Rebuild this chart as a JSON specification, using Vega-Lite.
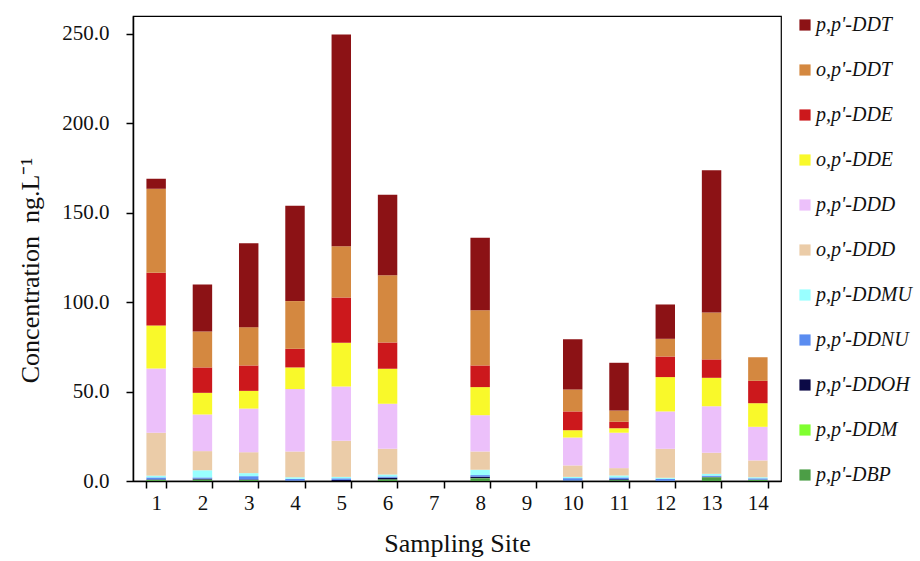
{
  "$schema": "https://vega.github.io/schema/vega-lite/v6.json",
  "width": 648,
  "height": 465,
  "autosize": "none",
  "padding": {"left": 133, "top": 16, "right": 139, "bottom": 80},
  "background": "white",
  "config": {
    "font": "Liberation Serif",
    "view": {"stroke": "black", "strokeWidth": 1.2},
    "axis": {"labelFont": "Liberation Serif", "titleFont": "Liberation Serif", "domainColor": "black", "tickColor": "black", "labelColor": "#111", "titleColor": "#111", "grid": false, "domainWidth": 1.5, "tickWidth": 1.5},
    "legend": {"labelFont": "Liberation Serif"}
  },
  "data": {"values": [
    {"site": "1", "compound": "p,p'-DBP", "value": 0.5},
    {"site": "1", "compound": "p,p'-DDM", "value": 0.1},
    {"site": "1", "compound": "p,p'-DDOH", "value": 0.3},
    {"site": "1", "compound": "p,p'-DDNU", "value": 1.1},
    {"site": "1", "compound": "p,p'-DDMU", "value": 1.0},
    {"site": "1", "compound": "o,p'-DDD", "value": 24.0},
    {"site": "1", "compound": "p,p'-DDD", "value": 35.9},
    {"site": "1", "compound": "o,p'-DDE", "value": 24.1},
    {"site": "1", "compound": "p,p'-DDE", "value": 29.4},
    {"site": "1", "compound": "o,p'-DDT", "value": 47.0},
    {"site": "1", "compound": "p,p'-DDT", "value": 5.6},
    {"site": "2", "compound": "p,p'-DBP", "value": 0.7},
    {"site": "2", "compound": "p,p'-DDM", "value": 0.1},
    {"site": "2", "compound": "p,p'-DDOH", "value": 0.5},
    {"site": "2", "compound": "p,p'-DDNU", "value": 0.7},
    {"site": "2", "compound": "p,p'-DDMU", "value": 4.0},
    {"site": "2", "compound": "o,p'-DDD", "value": 10.7},
    {"site": "2", "compound": "p,p'-DDD", "value": 20.5},
    {"site": "2", "compound": "o,p'-DDE", "value": 12.1},
    {"site": "2", "compound": "p,p'-DDE", "value": 14.2},
    {"site": "2", "compound": "o,p'-DDT", "value": 20.1},
    {"site": "2", "compound": "p,p'-DDT", "value": 26.3},
    {"site": "3", "compound": "p,p'-DBP", "value": 0.6},
    {"site": "3", "compound": "p,p'-DDOH", "value": 0.3},
    {"site": "3", "compound": "p,p'-DDNU", "value": 1.8},
    {"site": "3", "compound": "p,p'-DDMU", "value": 1.7},
    {"site": "3", "compound": "o,p'-DDD", "value": 11.7},
    {"site": "3", "compound": "p,p'-DDD", "value": 24.4},
    {"site": "3", "compound": "o,p'-DDE", "value": 9.9},
    {"site": "3", "compound": "p,p'-DDE", "value": 14.2},
    {"site": "3", "compound": "o,p'-DDT", "value": 21.4},
    {"site": "3", "compound": "p,p'-DDT", "value": 47.0},
    {"site": "4", "compound": "p,p'-DDOH", "value": 0.2},
    {"site": "4", "compound": "p,p'-DDNU", "value": 1.0},
    {"site": "4", "compound": "p,p'-DDMU", "value": 0.9},
    {"site": "4", "compound": "o,p'-DDD", "value": 14.4},
    {"site": "4", "compound": "p,p'-DDD", "value": 34.9},
    {"site": "4", "compound": "o,p'-DDE", "value": 12.1},
    {"site": "4", "compound": "p,p'-DDE", "value": 10.4},
    {"site": "4", "compound": "o,p'-DDT", "value": 26.7},
    {"site": "4", "compound": "p,p'-DDT", "value": 53.3},
    {"site": "5", "compound": "p,p'-DDOH", "value": 0.6},
    {"site": "5", "compound": "p,p'-DDNU", "value": 0.9},
    {"site": "5", "compound": "p,p'-DDMU", "value": 0.8},
    {"site": "5", "compound": "o,p'-DDD", "value": 20.2},
    {"site": "5", "compound": "p,p'-DDD", "value": 30.4},
    {"site": "5", "compound": "o,p'-DDE", "value": 24.4},
    {"site": "5", "compound": "p,p'-DDE", "value": 25.3},
    {"site": "5", "compound": "o,p'-DDT", "value": 28.7},
    {"site": "5", "compound": "p,p'-DDT", "value": 118.4},
    {"site": "6", "compound": "p,p'-DBP", "value": 1.0},
    {"site": "6", "compound": "p,p'-DDOH", "value": 0.8},
    {"site": "6", "compound": "p,p'-DDNU", "value": 0.7},
    {"site": "6", "compound": "p,p'-DDMU", "value": 1.1},
    {"site": "6", "compound": "o,p'-DDD", "value": 14.4},
    {"site": "6", "compound": "p,p'-DDD", "value": 25.2},
    {"site": "6", "compound": "o,p'-DDE", "value": 19.5},
    {"site": "6", "compound": "p,p'-DDE", "value": 14.8},
    {"site": "6", "compound": "o,p'-DDT", "value": 37.6},
    {"site": "6", "compound": "p,p'-DDT", "value": 45.0},
    {"site": "8", "compound": "p,p'-DBP", "value": 1.5},
    {"site": "8", "compound": "p,p'-DDM", "value": 0.1},
    {"site": "8", "compound": "p,p'-DDOH", "value": 0.8},
    {"site": "8", "compound": "p,p'-DDNU", "value": 0.9},
    {"site": "8", "compound": "p,p'-DDMU", "value": 3.0},
    {"site": "8", "compound": "o,p'-DDD", "value": 10.2},
    {"site": "8", "compound": "p,p'-DDD", "value": 20.3},
    {"site": "8", "compound": "o,p'-DDE", "value": 15.7},
    {"site": "8", "compound": "p,p'-DDE", "value": 12.1},
    {"site": "8", "compound": "o,p'-DDT", "value": 30.9},
    {"site": "8", "compound": "p,p'-DDT", "value": 40.5},
    {"site": "10", "compound": "p,p'-DBP", "value": 0.1},
    {"site": "10", "compound": "p,p'-DDOH", "value": 0.2},
    {"site": "10", "compound": "p,p'-DDNU", "value": 1.3},
    {"site": "10", "compound": "p,p'-DDMU", "value": 0.7},
    {"site": "10", "compound": "o,p'-DDD", "value": 6.4},
    {"site": "10", "compound": "p,p'-DDD", "value": 15.6},
    {"site": "10", "compound": "o,p'-DDE", "value": 4.1},
    {"site": "10", "compound": "p,p'-DDE", "value": 10.5},
    {"site": "10", "compound": "o,p'-DDT", "value": 12.3},
    {"site": "10", "compound": "p,p'-DDT", "value": 28.1},
    {"site": "11", "compound": "p,p'-DBP", "value": 0.5},
    {"site": "11", "compound": "p,p'-DDOH", "value": 0.5},
    {"site": "11", "compound": "p,p'-DDNU", "value": 1.0},
    {"site": "11", "compound": "p,p'-DDMU", "value": 1.1},
    {"site": "11", "compound": "o,p'-DDD", "value": 4.1},
    {"site": "11", "compound": "p,p'-DDD", "value": 19.8},
    {"site": "11", "compound": "o,p'-DDE", "value": 2.5},
    {"site": "11", "compound": "p,p'-DDE", "value": 3.6},
    {"site": "11", "compound": "o,p'-DDT", "value": 6.3},
    {"site": "11", "compound": "p,p'-DDT", "value": 26.7},
    {"site": "12", "compound": "p,p'-DDOH", "value": 0.1},
    {"site": "12", "compound": "p,p'-DDNU", "value": 1.1},
    {"site": "12", "compound": "p,p'-DDMU", "value": 0.6},
    {"site": "12", "compound": "o,p'-DDD", "value": 16.2},
    {"site": "12", "compound": "p,p'-DDD", "value": 20.9},
    {"site": "12", "compound": "o,p'-DDE", "value": 19.2},
    {"site": "12", "compound": "p,p'-DDE", "value": 11.5},
    {"site": "12", "compound": "o,p'-DDT", "value": 9.9},
    {"site": "12", "compound": "p,p'-DDT", "value": 19.2},
    {"site": "13", "compound": "p,p'-DBP", "value": 2.0},
    {"site": "13", "compound": "p,p'-DDM", "value": 0.1},
    {"site": "13", "compound": "p,p'-DDOH", "value": 0.2},
    {"site": "13", "compound": "p,p'-DDNU", "value": 0.7},
    {"site": "13", "compound": "p,p'-DDMU", "value": 1.0},
    {"site": "13", "compound": "o,p'-DDD", "value": 11.8},
    {"site": "13", "compound": "p,p'-DDD", "value": 26.0},
    {"site": "13", "compound": "o,p'-DDE", "value": 15.9},
    {"site": "13", "compound": "p,p'-DDE", "value": 10.3},
    {"site": "13", "compound": "o,p'-DDT", "value": 26.2},
    {"site": "13", "compound": "p,p'-DDT", "value": 79.5},
    {"site": "14", "compound": "p,p'-DBP", "value": 0.7},
    {"site": "14", "compound": "p,p'-DDOH", "value": 0.1},
    {"site": "14", "compound": "p,p'-DDNU", "value": 0.7},
    {"site": "14", "compound": "p,p'-DDMU", "value": 0.6},
    {"site": "14", "compound": "o,p'-DDD", "value": 9.4},
    {"site": "14", "compound": "p,p'-DDD", "value": 18.8},
    {"site": "14", "compound": "o,p'-DDE", "value": 13.2},
    {"site": "14", "compound": "p,p'-DDE", "value": 12.5},
    {"site": "14", "compound": "o,p'-DDT", "value": 13.2}
  ]},
  "transform": [
    {"calculate": "indexof([\"p,p'-DBP\", \"p,p'-DDM\", \"p,p'-DDOH\", \"p,p'-DDNU\", \"p,p'-DDMU\", \"o,p'-DDD\", \"p,p'-DDD\", \"o,p'-DDE\", \"p,p'-DDE\", \"o,p'-DDT\", \"p,p'-DDT\"], datum.compound)", "as": "stackOrder"}
  ],
  "mark": {"type": "bar"},
  "encoding": {
    "x": {
      "field": "site", "type": "ordinal",
      "scale": {"domain": ["1","2","3","4","5","6","7","8","9","10","11","12","13","14"], "paddingInner": 0.58, "paddingOuter": 0.29},
      "axis": {
        "title": "Sampling Site", "titleFontSize": 26, "titleFontWeight": "normal", "titlePadding": 17,
        "labelFontSize": 21, "labelAngle": 0, "labelPadding": 4, "tickSize": 7, "tickBand": "extent"
      }
    },
    "y": {
      "field": "value", "type": "quantitative", "aggregate": "sum", "stack": "zero",
      "scale": {"domain": [0, 260], "nice": false},
      "axis": {
        "title": "Concentration\u00a0\u00a0ng.L⁻¹", "titleFontSize": 26, "titleFontWeight": "normal",
        "titleX": -103, "titleY": 254, "titleAngle": -90, "titleAlign": "center", "titleBaseline": "middle",
        "values": [0, 50, 100, 150, 200, 250], "format": ".1f",
        "labelFontSize": 21, "labelPadding": 17, "tickSize": 7
      }
    },
    "order": {"field": "stackOrder", "type": "quantitative", "sort": "ascending"},
    "color": {
      "field": "compound", "type": "nominal",
      "scale": {
        "domain": ["p,p'-DDT", "o,p'-DDT", "p,p'-DDE", "o,p'-DDE", "p,p'-DDD", "o,p'-DDD", "p,p'-DDMU", "p,p'-DDNU", "p,p'-DDOH", "p,p'-DDM", "p,p'-DBP"],
        "range": ["#8c1215", "#d48840", "#cc181c", "#f9f92a", "#ecc0fa", "#ebcca8", "#99ffff", "#5a8cf0", "#0c0a46", "#80ff30", "#4c9e46"]
      },
      "legend": {
        "title": null, "orient": "none", "legendX": 662, "legendY": -1,
        "symbolType": "square", "symbolSize": 125, "symbolStrokeWidth": 0, "symbolOpacity": 1,
        "labelFont": "Liberation Serif", "labelFontStyle": "italic", "labelFontSize": 20, "labelColor": "#111",
        "labelOffset": 1, "rowPadding": 25, "padding": 0, "labelLimit": 200
      }
    }
  }
}
